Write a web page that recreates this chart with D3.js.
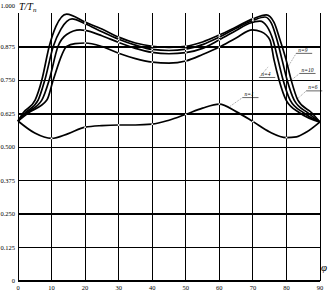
<!DOCTYPE html>
<html><head><meta charset="utf-8">
<script src="https://cdn.jsdelivr.net/npm/d3@7"></script>
<style>html,body{margin:0;padding:0;background:#fff;}svg{display:block;}</style>
</head><body>
<svg id="c" width="330" height="290"></svg>
<script>
// ---- data ----
const xTicks = [0,10,20,30,40,50,60,70,80,90];
const yTicks = [0,0.125,0.25,0.375,0.5,0.625,0.75,0.875,1.0];
const yTickLabels = ["0","0.125","0.250","0.375","0.500","0.625","0.750","0.875","1.000"];
const thickLines = [0,0.25,0.625,0.875];
const seriesNames = ["n=9","n=10","n=6","n=4","n=1"];
const serA = [[0,0.597],[1.5,0.627],[5.1,0.675],[7.1,0.75],[9.3,0.875],[11.3,0.95],[14.5,0.996],[20,0.966],[25,0.940],[30,0.910],[35,0.888],[40,0.876],[45,0.872],[50,0.876],[55,0.892],[60,0.918],[65,0.948],[70,0.978],[74,0.993],[76.3,0.965],[78.1,0.899],[79.9,0.825],[81.4,0.75],[83.4,0.675],[87.6,0.627],[90,0.593]];
const serB = [[0,0.597],[2.1,0.627],[6.0,0.675],[8.0,0.75],[10.5,0.875],[12.8,0.94],[16.1,0.978],[20,0.960],[25,0.930],[30,0.902],[35,0.880],[40,0.864],[45,0.860],[50,0.865],[55,0.882],[60,0.910],[65,0.943],[70,0.972],[73.6,0.985],[75.5,0.962],[77.2,0.899],[78.7,0.825],[80.2,0.75],[82.3,0.675],[86.4,0.627],[90,0.593]];
const serC = [[0,0.597],[2.5,0.627],[7.1,0.675],[9.3,0.75],[11.9,0.875],[14.5,0.92],[18.5,0.937],[20,0.935],[25,0.915],[30,0.890],[35,0.868],[40,0.853],[45,0.848],[50,0.852],[55,0.868],[60,0.900],[65,0.935],[69,0.962],[72.1,0.970],[74.2,0.950],[76.0,0.899],[77.5,0.825],[79.0,0.75],[81.1,0.675],[85.2,0.627],[90,0.593]];
const serD = [[0,0.597],[3.0,0.627],[8.6,0.675],[10.5,0.75],[14.5,0.875],[17,0.886],[20,0.888],[25,0.875],[30,0.850],[35,0.830],[40,0.817],[45,0.813],[50,0.821],[55,0.845],[60,0.873],[65,0.907],[69.8,0.937],[72.5,0.930],[75.1,0.899],[76.3,0.825],[77.8,0.75],[79.9,0.675],[84.0,0.627],[90,0.593]];
const serE = [[0,0.597],[5,0.552],[10,0.532],[15,0.550],[20,0.574],[25,0.580],[30,0.582],[35,0.582],[40,0.585],[45,0.600],[50,0.622],[55,0.645],[60,0.660],[65,0.632],[70,0.595],[75,0.556],[80,0.535],[83,0.538],[86,0.556],[90,0.594]];
const labelPos = [[83.5,0.855],[84.5,0.78],[86.5,0.715],[72.5,0.765],[67.5,0.69]];
const leaderTo = [[80.5,0.80],[81.5,0.75],[83.3,0.68],[74.6,0.80],[63,0.65]];
// ---- chart ----
const svg = d3.select("#c");
svg.append("rect").attr("width",330).attr("height",290).attr("fill","#fff");
const x = d3.scaleLinear().domain([0,90]).range([18,320]);
const y = d3.scaleLinear().domain([0,1]).range([281,13]);
const g = svg.append("g");
g.selectAll("line.v").data(xTicks).join("line")
  .attr("x1",d=>x(d)).attr("x2",d=>x(d)).attr("y1",y(0)).attr("y2",y(1))
  .attr("stroke","#000").attr("stroke-width",1).attr("shape-rendering","crispEdges");
g.selectAll("line.h").data(yTicks.filter(d=>d<1)).join("line")
  .attr("x1",x(0)).attr("x2",x(90)).attr("y1",d=>y(d)).attr("y2",d=>y(d))
  .attr("stroke","#000").attr("stroke-width",d=>thickLines.includes(d)?2:1)
  .attr("shape-rendering","crispEdges");
const font = "'Liberation Serif', serif";
g.selectAll("text.yl").data(yTicks).join("text")
  .attr("x",15).attr("y",d=>d===1?8:y(d)+2)
  .attr("text-anchor","end").attr("font-family",font).attr("font-size",6.5)
  .text((d,i)=>yTickLabels[i]);
g.selectAll("text.xl").data(xTicks).join("text")
  .attr("x",d=>x(d)).attr("y",290)
  .attr("text-anchor","middle").attr("font-family",font).attr("font-size",6.5)
  .text(d=>d);
svg.append("text").attr("x",19).attr("y",10).attr("font-family",font)
  .attr("font-style","italic").attr("font-size",10).html("T/T<tspan font-size='7' dy='2'>n</tspan>");
svg.append("text").attr("x",321).attr("y",271).attr("font-family",font)
  .attr("font-style","italic").attr("font-size",11).text("φ");
const all = [serA,serB,serC,serD,serE];
const line = d3.line().x(d=>x(d[0])).y(d=>y(d[1])).curve(d3.curveMonotoneX);
const cg = svg.append("g");
cg.selectAll("path").data(all).join("path").attr("d",line)
  .attr("fill","none").attr("stroke","#000").attr("stroke-width",1.7);
all.forEach(s=>{
  cg.append("g").selectAll("circle").data(s.filter(d=>d[0]%10===0&&d[0]>0&&d[0]<90)).join("circle")
    .attr("cx",d=>x(d[0])).attr("cy",d=>y(d[1])).attr("r",0.9).attr("fill","#fff");
});
const lg = svg.append("g");
seriesNames.forEach((n,i)=>{
  const px = x(labelPos[i][0]), py = y(labelPos[i][1]);
  lg.append("text").attr("x",px).attr("y",py).attr("font-family",font)
    .attr("font-style","italic").attr("font-size",5.5).text(n);
  lg.append("line").attr("x1",px-2).attr("x2",px+14).attr("y1",py+1.5).attr("y2",py+1.5)
    .attr("stroke","#000").attr("stroke-width",0.6);
  lg.append("line").attr("x1",px-2).attr("y1",py+1.5)
    .attr("x2",x(leaderTo[i][0])).attr("y2",y(leaderTo[i][1]))
    .attr("stroke","#000").attr("stroke-width",0.4).attr("stroke-dasharray","1,1");
});
</script>
</body></html>
